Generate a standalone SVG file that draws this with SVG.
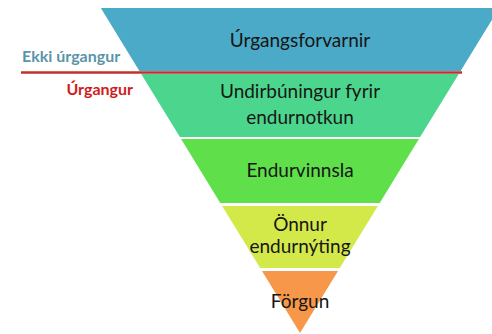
<svg xmlns="http://www.w3.org/2000/svg" width="492" height="334" viewBox="0 0 492 334">
<style>
.lbl{font-family:Lato,"Open Sans","Liberation Sans",sans-serif;font-size:19px;fill:#161616;text-anchor:middle}
.side{font-family:Lato,"Open Sans","Liberation Sans",sans-serif;font-size:16px;font-weight:bold}
</style>
<rect width="492" height="334" fill="#ffffff"/>
<g id="level1">
<polygon points="100.8,8 499.2,8 460.6,71 139.4,71" fill="#4BAAC8"/>
<text class="lbl" x="300" y="47">Úrgangsforvarnir</text>
</g>
<g id="level2">
<polygon points="141.2,74 458.8,74 420.1,137 179.9,137" fill="#4CD68D"/>
<text class="lbl" x="300" y="98">Undirbúningur fyrir</text>
<text class="lbl" x="300" y="124">endurnotkun</text>
</g>
<g id="level3">
<polygon points="181.1,139 418.9,139 379.7,203 220.3,203" fill="#5FE04B"/>
<text class="lbl" x="300" y="177">Endurvinnsla</text>
</g>
<g id="level4">
<polygon points="222.1,206 377.9,206 339.8,268 260.2,268" fill="#D3E94A"/>
<text class="lbl" x="300" y="231">Önnur</text>
<text class="lbl" x="300" y="253">endurnýting</text>
</g>
<g id="level5">
<polygon points="262,271 338,271 300,333" fill="#F7974A"/>
<text class="lbl" x="300" y="308">Förgun</text>
</g>
<g id="connectors">
<line x1="21" y1="72.5" x2="462" y2="72.5" stroke="#C2302B" stroke-width="2.5"/>
</g>
<g id="labels">
<text class="side" x="22" y="62" fill="#5A94AA">Ekki úrgangur</text>
<text class="side" x="133" y="95" fill="#D01B1B" text-anchor="end">Úrgangur</text>
</g>
</svg>
